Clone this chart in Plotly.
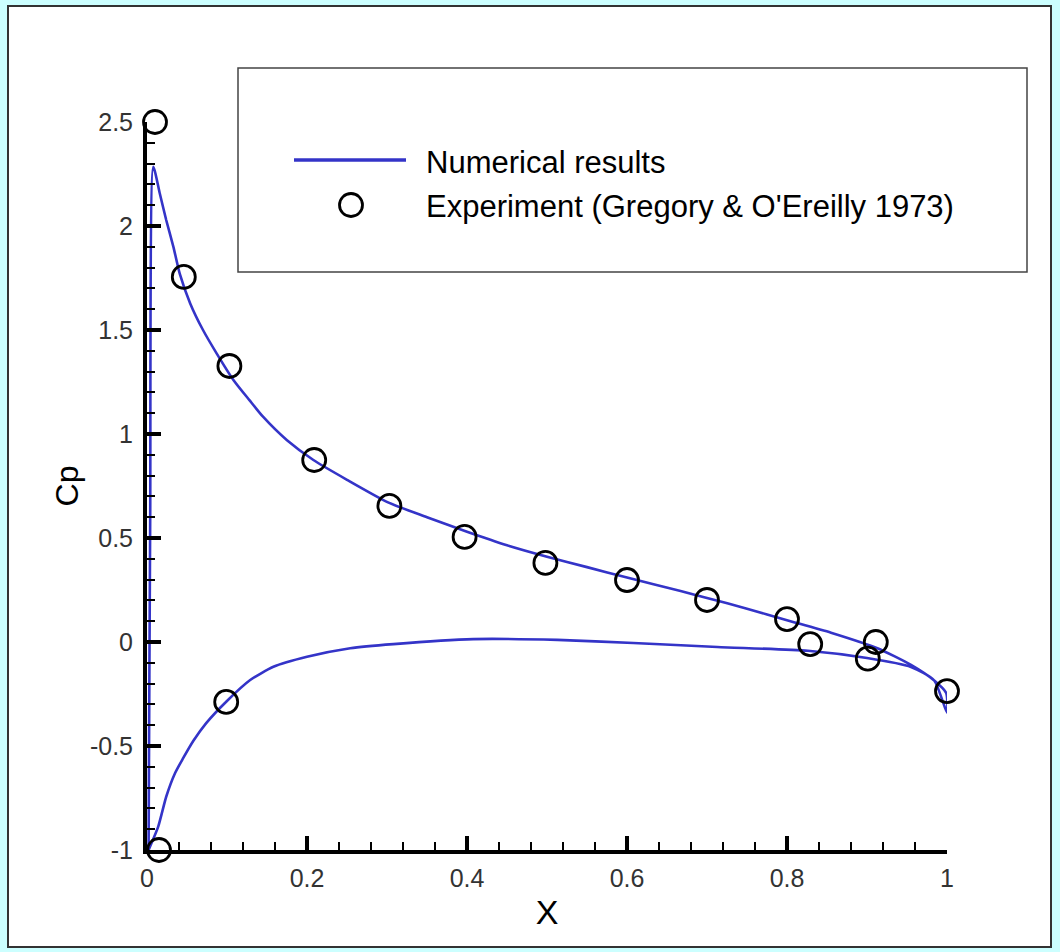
import plotly.graph_objects as go

# ---------------- data ----------------
upper_x = [0.002, 0.004, 0.0079, 0.016, 0.024, 0.033, 0.041, 0.054, 0.070, 0.087,
           0.108, 0.128, 0.145, 0.175, 0.208, 0.25, 0.302, 0.35, 0.40, 0.45, 0.50,
           0.55, 0.60, 0.667, 0.70, 0.75, 0.80, 0.855, 0.913, 0.955, 0.984, 0.999, 1.0]
upper_cp = [-1.0, 0.6, 2.285, 2.156, 2.029, 1.90, 1.77, 1.628, 1.50, 1.388,
            1.26, 1.163, 1.083, 0.97, 0.875, 0.78, 0.67, 0.60, 0.53, 0.465, 0.41,
            0.36, 0.31, 0.245, 0.212, 0.16, 0.105, 0.045, -0.03, -0.11, -0.185, -0.245, -0.34]

lower_x = [0.002, 0.014, 0.024, 0.035, 0.045, 0.058, 0.074, 0.099, 0.129, 0.158, 0.20,
           0.254, 0.308, 0.408, 0.513, 0.608, 0.713, 0.826, 0.90, 0.955, 0.984, 1.0]
lower_cp = [-1.0, -0.888, -0.744, -0.631, -0.56, -0.475, -0.39, -0.287, -0.183, -0.119, -0.071,
            -0.03, -0.01, 0.014, 0.01, -0.005, -0.024, -0.042, -0.077, -0.12, -0.185, -0.34]

exp_x = [0.01, 0.046, 0.103, 0.209, 0.303, 0.397, 0.498, 0.60, 0.70, 0.80,
         0.829, 0.911, 0.901, 1.0, 0.099, 0.015]
exp_cp = [2.5, 1.755, 1.327, 0.875, 0.654, 0.505, 0.38, 0.298, 0.202, 0.11,
          -0.01, 0.0, -0.08, -0.236, -0.288, -1.0]

x_tickvals = [0, 0.2, 0.4, 0.6, 0.8, 1]
x_ticktext = ["0", "0.2", "0.4", "0.6", "0.8", "1"]
y_tickvals = [-1, -0.5, 0, 0.5, 1, 1.5, 2, 2.5]
y_ticktext = ["-1", "-0.5", "0", "0.5", "1", "1.5", "2", "2.5"]

series_names = ["Numerical results", "Experiment (Gregory & O'Ereilly 1973)"]

# ---------------- layout geometry ----------------
W, H = 1060, 952
L, R, T, B = 147, 947, 122, 850
FONT = "Liberation Sans, Arial, Helvetica, sans-serif"
BLUE = "#3434c8"


def px(xp):
    return (xp - L) / (R - L)


def py(yp):
    return (B - yp) / (B - T)


# closed curve: lower surface from TE to LE, then upper surface LE to TE
curve_x = lower_x[::-1] + upper_x
curve_y = lower_cp[::-1] + upper_cp

fig = go.Figure()
fig.add_trace(go.Scatter(
    x=curve_x, y=curve_y, mode="lines", name=series_names[0],
    line=dict(color=BLUE, width=2.6, shape="spline", smoothing=0.6),
    showlegend=False, cliponaxis=False))
fig.add_trace(go.Scatter(
    x=exp_x, y=exp_cp, mode="markers", name=series_names[1],
    marker=dict(symbol="circle-open", size=23, color="black",
                line=dict(color="black", width=2.8)),
    showlegend=False, cliponaxis=False))

shapes = [
    # white panel with dark border
    dict(type="rect", xref="paper", yref="paper", layer="below",
         x0=px(8), x1=px(1051), y0=py(947), y1=py(6),
         fillcolor="white", line=dict(color="#333333", width=2)),
    # legend box
    dict(type="rect", xref="paper", yref="paper",
         x0=px(238), x1=px(1027), y0=py(272), y1=py(68),
         fillcolor="rgba(0,0,0,0)", line=dict(color="#444444", width=1.5)),
    # legend line sample
    dict(type="line", xref="paper", yref="paper",
         x0=px(294), x1=px(406), y0=py(160), y1=py(160),
         line=dict(color=BLUE, width=3.5)),
    # legend marker sample
    dict(type="circle", xref="paper", yref="paper",
         x0=px(339.5), x1=px(362.5), y0=py(216.5), y1=py(193.5),
         fillcolor="rgba(0,0,0,0)", line=dict(color="black", width=2.8)),
]

annotations = [
    dict(text=series_names[0], xref="paper", yref="paper", x=px(424), y=py(162),
         xanchor="left", yanchor="middle", showarrow=False,
         font=dict(family=FONT, size=31, color="black")),
    dict(text=series_names[1], xref="paper", yref="paper", x=px(424), y=py(206),
         xanchor="left", yanchor="middle", showarrow=False,
         font=dict(family=FONT, size=31, color="black")),
]

fig.update_layout(
    width=W, height=H,
    margin=dict(l=L, r=W - R, t=T, b=H - B, pad=0),
    paper_bgcolor="#ccffff", plot_bgcolor="white",
    shapes=shapes, annotations=annotations, showlegend=False,
    xaxis=dict(range=[0, 1], showline=True, linewidth=4, linecolor="black",
               showgrid=False, zeroline=False, ticks="inside", ticklen=14,
               tickwidth=3.5, tickcolor="black",
               tickvals=x_tickvals, ticktext=x_ticktext,
               minor=dict(ticks="inside", ticklen=8, tickwidth=1.5,
                          tickcolor="black", dtick=0.04, tick0=0, showgrid=False),
               tickfont=dict(family=FONT, size=25, color="#333333"),
               ticklabelstandoff=3,
               title=dict(text="X", standoff=10,
                          font=dict(family=FONT, size=34, color="black"))),
    yaxis=dict(range=[-1, 2.5], showline=True, linewidth=4, linecolor="black",
               showgrid=False, zeroline=False, ticks="inside", ticklen=14,
               tickwidth=3.5, tickcolor="black",
               tickvals=y_tickvals, ticktext=y_ticktext,
               minor=dict(ticks="inside", ticklen=8, tickwidth=1.5,
                          tickcolor="black", dtick=0.1, tick0=0, showgrid=False),
               tickfont=dict(family=FONT, size=25, color="#333333"),
               ticklabelstandoff=5,
               title=dict(text="Cp", standoff=3,
                          font=dict(family=FONT, size=32, color="black"))),
)

fig.write_html("out.html")
